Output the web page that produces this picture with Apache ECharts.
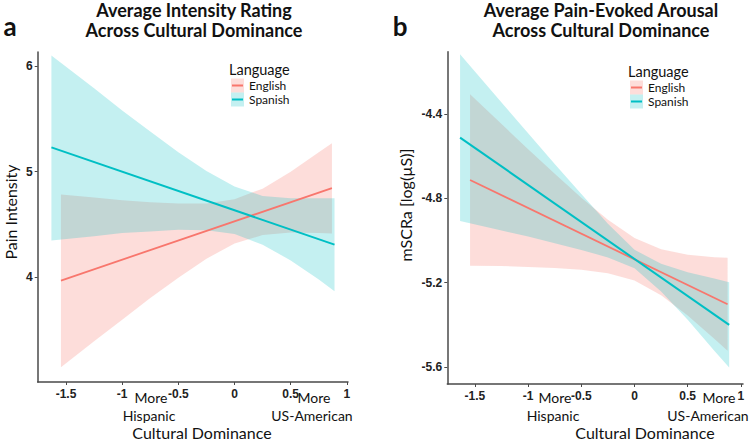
<!DOCTYPE html>
<html>
<head>
<meta charset="utf-8">
<script src="https://cdn.jsdelivr.net/npm/echarts@6/dist/echarts.min.js"></script>
<style>html,body{margin:0;padding:0;background:#fff;}#c{width:755px;height:441px;}</style>
</head>
<body>
<div id="c"></div>
<script>
// ---------- Data ----------
// Panel a: Average Intensity Rating
const aXTicks = [-1.5, -1, -0.5, 0, 0.5, 1];
const aYTicks = [4, 5, 6];
const aSpX = [-1.63, -1.25, -1.0, -0.75, -0.5, -0.25, 0, 0.25, 0.5, 0.75, 0.89];
const aSpUpper = [6.10, 5.79, 5.58, 5.38, 5.185, 5.006, 4.86, 4.77, 4.75, 4.75, 4.75];
const aSpLower = [4.35, 4.39, 4.42, 4.435, 4.45, 4.445, 4.41, 4.31, 4.16, 3.98, 3.87];
const aSpLineX = [-1.63, 0.89];
const aSpLineY = [5.23, 4.31];
const aEnX = [-1.545, -1.25, -1.0, -0.75, -0.5, -0.25, 0, 0.25, 0.5, 0.75, 0.867];
const aEnUpper = [4.785, 4.756, 4.73, 4.71, 4.70, 4.70, 4.74, 4.84, 5.00, 5.185, 5.27];
const aEnLower = [3.15, 3.395, 3.60, 3.805, 3.997, 4.177, 4.32, 4.40, 4.425, 4.42, 4.415];
const aEnLineX = [-1.545, 0.867];
const aEnLineY = [3.97, 4.845];

// Panel b: Average Pain-Evoked Arousal
const bXTicks = [-1.5, -1, -0.5, 0, 0.5, 1];
const bYTicks = [-5.6, -5.2, -4.8, -4.4];
const bSpX = [-1.64, -1.25, -1.0, -0.75, -0.5, -0.25, 0, 0.25, 0.5, 0.75, 0.89];
const bSpUpper = [-4.117, -4.346, -4.492, -4.637, -4.779, -4.920, -5.044, -5.110, -5.150, -5.180, -5.198];
const bSpLower = [-4.907, -4.953, -4.981, -5.013, -5.045, -5.080, -5.131, -5.241, -5.375, -5.522, -5.602];
const bSpLineX = [-1.64, 0.89];
const bSpLineY = [-4.512, -5.40];
const bEnX = [-1.546, -1.25, -1.0, -0.75, -0.5, -0.25, 0, 0.25, 0.5, 0.75, 0.875];
const bEnUpper = [-4.307, -4.448, -4.567, -4.683, -4.797, -4.902, -4.988, -5.041, -5.067, -5.079, -5.082];
const bEnLower = [-5.119, -5.121, -5.125, -5.130, -5.138, -5.155, -5.190, -5.259, -5.355, -5.465, -5.522];
const bEnLineX = [-1.546, 0.875];
const bEnLineY = [-4.713, -5.302];

const legendNames = ['English', 'Spanish'];

// ---------- Styles ----------
const EN = '#F8766D', SP = '#00BFC4';
const EN_FILL = 'rgba(248,118,109,0.25)', SP_FILL = 'rgba(0,191,196,0.23)';
const AXIS_COLOR = '#4a4a4a';
const TXT = "Lato, 'Open Sans', sans-serif";

function ribbon(idx, xs, up, lo, fill) {
  return {
    type: 'custom', xAxisIndex: idx, yAxisIndex: idx,
    data: [[xs[0], up[0]]],
    encode: { x: 0, y: 1 },
    silent: true,
    renderItem: function (params, api) {
      const pts = [];
      for (let i = 0; i < xs.length; i++) pts.push(api.coord([xs[i], up[i]]));
      for (let i = xs.length - 1; i >= 0; i--) pts.push(api.coord([xs[i], lo[i]]));
      return { type: 'polygon', shape: { points: pts, smooth: 0 }, style: { fill: fill, stroke: null } };
    }
  };
}
function fitLine(idx, xs, ys, color, w) {
  return {
    type: 'line', xAxisIndex: idx, yAxisIndex: idx,
    data: xs.map((x, i) => [x, ys[i]]),
    showSymbol: false, symbol: 'none', silent: true,
    lineStyle: { color: color, width: w }
  };
}
function xAxisCfg(idx, min, max, ticks) {
  return {
    gridIndex: idx, type: 'value', min: min, max: max,
    axisLine: { show: true, onZero: false, lineStyle: { color: AXIS_COLOR, width: 1.5 } },
    axisTick: { show: true, length: 3, customValues: ticks, lineStyle: { color: AXIS_COLOR, width: 1 } },
    axisLabel: { customValues: ticks, fontFamily: 'Liberation Sans, Arial, sans-serif', fontWeight: 'bold', fontSize: 12, color: '#222', margin: 6 },
    splitLine: { show: false }
  };
}
function yAxisCfg(idx, min, max, ticks) {
  return {
    gridIndex: idx, type: 'value', min: min, max: max,
    axisLine: { show: true, onZero: false, lineStyle: { color: AXIS_COLOR, width: 1.5 } },
    axisTick: { show: true, length: 3, customValues: ticks, lineStyle: { color: AXIS_COLOR, width: 1 } },
    axisLabel: { customValues: ticks, fontFamily: 'Liberation Sans, Arial, sans-serif', fontWeight: 'bold', fontSize: 12, color: '#222', margin: 5 },
    splitLine: { show: false }
  };
}
function text(x, y, str, o) {
  return {
    type: 'text', x: x, y: y, silent: true,
    style: Object.assign({ text: str, fill: '#111', font: '15px ' + TXT, align: 'center', verticalAlign: 'middle' }, o || {})
  };
}
function legend(x, y) {
  const els = [text(x, y, 'Language', { align: 'left', font: '14.5px ' + TXT })];
  const fills = [EN_FILL, SP_FILL], cols = [EN, SP];
  legendNames.forEach((n, i) => {
    const cy = y + 16.5 + i * 14;
    els.push({ type: 'rect', silent: true, shape: { x: x + 2, y: cy - 7, width: 13, height: 14 }, style: { fill: fills[i] } });
    els.push({ type: 'line', silent: true, shape: { x1: x + 3, y1: cy, x2: x + 14, y2: cy }, style: { stroke: cols[i], lineWidth: 2 } });
    els.push(text(x + 20, cy, n, { align: 'left', font: '12px ' + TXT }));
  });
  return els;
}

const graphics = [
  text(10, 26, 'a', { font: 'bold 26px ' + TXT, align: 'center' }),
  text(400, 26, 'b', { font: 'bold 26px ' + TXT, align: 'center' }),
  text(194, 10, 'Average Intensity Rating', { font: 'bold 18px ' + TXT }),
  text(194, 30, 'Across Cultural Dominance', { font: 'bold 18px ' + TXT }),
  text(601, 10, 'Average Pain-Evoked Arousal', { font: 'bold 18px ' + TXT }),
  text(601, 30, 'Across Cultural Dominance', { font: 'bold 18px ' + TXT }),
  // axis titles
  text(202, 432, 'Cultural Dominance', { font: '16px ' + TXT }),
  text(645, 432, 'Cultural Dominance', { font: '16px ' + TXT }),
  Object.assign(text(10, 212, 'Pain Intensity', { font: '16px ' + TXT }), { rotation: Math.PI / 2 }),
  Object.assign(text(405, 205, 'mSCRa [log(µS)]', { font: '16px ' + TXT }), { rotation: Math.PI / 2 }),
  // direction labels
  text(151, 397, 'More', { font: '14px ' + TXT }),
  text(149, 415, 'Hispanic', { font: '14px ' + TXT }),
  text(314, 397, 'More', { font: '14px ' + TXT }),
  text(312, 415, 'US-American', { font: '14px ' + TXT }),
  text(555, 397, 'More', { font: '14px ' + TXT }),
  text(553, 415, 'Hispanic', { font: '14px ' + TXT }),
  text(719, 397, 'More', { font: '14px ' + TXT }),
  text(708, 415, 'US-American', { font: '14px ' + TXT })
].concat(legend(229, 69), legend(628, 71));

const chart = echarts.init(document.getElementById('c'), null, { renderer: 'svg', width: 755, height: 441 });
chart.setOption({
  animation: false,
  backgroundColor: '#fff',
  grid: [
    { left: 37.7, top: 52, width: 310.3, height: 330, containLabel: false },
    { left: 447.3, top: 51.7, width: 295.7, height: 332.3, containLabel: false }
  ],
  xAxis: [xAxisCfg(0, -1.752, 1.01, aXTicks), xAxisCfg(1, -1.76, 1.02, bXTicks)],
  yAxis: [yAxisCfg(0, 3.01, 6.133, aYTicks), yAxisCfg(1, -5.68, -4.105, bYTicks)],
  series: [
    ribbon(0, aEnX, aEnUpper, aEnLower, EN_FILL),
    fitLine(0, aEnLineX, aEnLineY, EN, 1.8),
    ribbon(0, aSpX, aSpUpper, aSpLower, SP_FILL),
    fitLine(0, aSpLineX, aSpLineY, SP, 2),
    ribbon(1, bEnX, bEnUpper, bEnLower, EN_FILL),
    fitLine(1, bEnLineX, bEnLineY, EN, 1.8),
    ribbon(1, bSpX, bSpUpper, bSpLower, SP_FILL),
    fitLine(1, bSpLineX, bSpLineY, SP, 2)
  ],
  graphic: graphics
});
</script>
</body>
</html>
